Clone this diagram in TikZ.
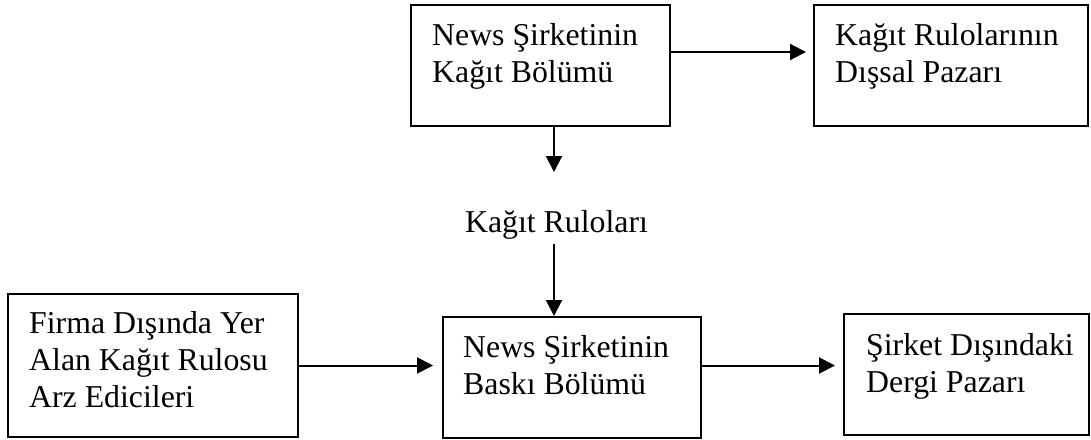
\documentclass[tikz,border=0pt]{standalone}
\usepackage{fontspec}
\setmainfont{Liberation Serif}
\usetikzlibrary{arrows.meta,calc}

\tikzset{
  boxnode/.style={draw, line width=2pt, inner sep=0pt, anchor=north west},
  boxtext/.style={anchor=base west, inner sep=0pt,
    font=\fontsize{31.8}{37}\selectfont},
  arr/.style={line width=2pt, -{Triangle[length=16pt,width=16pt]}},
}
\newcommand{\lines}[1]{\begin{tabular}[t]{@{}l@{}}#1\end{tabular}}

\begin{document}
\begin{tikzpicture}[x=1pt,y=1pt]
  \useasboundingbox (0,0) rectangle (1091,-439);

  % boxes
  \node[boxnode, minimum width=259pt, minimum height=121pt] (A) at (410,-4) {};
  \node[boxnode, minimum width=274pt, minimum height=121pt] (B) at (813,-4) {};
  \node[boxnode, minimum width=290pt, minimum height=143pt] (C) at (7,-293) {};
  \node[boxnode, minimum width=258pt, minimum height=121pt] (D) at (442,-316) {};
  \node[boxnode, minimum width=245pt, minimum height=121pt] (E) at (843,-313) {};

  % box texts
  \node[boxtext] (At) at ($(A.north west)+(22,-41)$) {\lines{News Şirketinin\\Kağıt Bölümü}};
  \node[boxtext] (Bt) at ($(B.north west)+(22,-41)$) {\lines{Kağıt Rulolarının\\Dışsal Pazarı}};
  \node[boxtext] (Ct) at ($(C.north west)+(22,-40)$) {\lines{Firma Dışında Yer\\Alan Kağıt Rulosu\\Arz Edicileri}};
  \node[boxtext] (Dt) at ($(D.north west)+(21,-41)$) {\lines{News Şirketinin\\Baskı Bölümü}};
  \node[boxtext] (Et) at ($(E.north west)+(23,-42)$) {\lines{Şirket Dışındaki\\Dergi Pazarı}};

  % flow label between the two divisions
  \coordinate (p1) at (554,-172);
  \node[anchor=base, inner sep=0pt, font=\fontsize{31.8}{37}\selectfont] (lbl) at (556.5,-232) {Kağıt Ruloları};

  % connectors
  \coordinate (hA) at (0,-52);
  \draw[arr, shorten >=7pt] (A.east |- hA) -- (B.west |- hA);
  \draw[arr] (p1 |- A.south) -- (p1);
  \draw[arr, shorten <=5pt] (p1 |- lbl.south) -- (p1 |- D.north);
  \draw[arr, shorten >=9pt] (C.east) -- (C.east -| D.west);
  \draw[arr, shorten >=8pt] (C.east -| D.east) -- (C.east -| E.west);
\end{tikzpicture}
\end{document}
